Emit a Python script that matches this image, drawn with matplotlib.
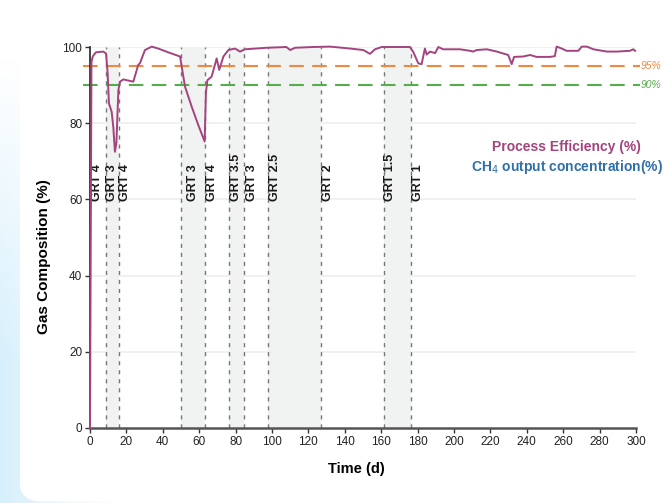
import numpy as np
import matplotlib
matplotlib.use("Agg")
import matplotlib.pyplot as plt
from matplotlib import font_manager
from matplotlib.patches import FancyBboxPatch

names = {f.name for f in font_manager.fontManager.ttflist}
FONT = "Liberation Sans" if "Liberation Sans" in names else "DejaVu Sans"
plt.rcParams["font.family"] = [FONT, "DejaVu Sans"]

# ---- data ----
days = [0, 0.8, 1.5, 3.2, 7.3, 8.8, 9.7, 10.4, 11.9, 12.8, 13.7, 14.5, 15.6, 16.5, 18.3, 20.1,
        23.8, 26.5, 27.4, 30.2, 33.9, 37.5, 43, 49.5, 50.4, 52.2, 55.9, 59.5, 63.0, 63.7, 64.5,
        66.8, 69.6, 71, 73.3, 76, 79.7, 82.4, 85.2, 97, 107.9, 110, 112.6, 122.6, 131.9,
        142.9, 150.2, 153.8, 156.6, 160.3, 175.8, 177.6, 180.4, 182.2, 184, 185, 186.8, 189.6,
        191.4, 194, 199.6, 203.3, 208.8, 210.6, 212.4, 218, 223.5, 229.8, 231.7, 233, 238,
        241.8, 245.4, 252.7, 255.4, 256.4, 259.2, 261.9, 268.3, 270.2, 273, 276.6, 283.9,
        289.4, 296.7, 298.5, 299.5]
efficiency = [0, 96, 97.5, 98.6, 98.8, 98.3, 93.1, 85.2, 83, 79, 72.5, 74.8, 88.7, 90.9, 91.5, 91.3,
              90.9, 95.3, 95.7, 99.2, 100.1, 99.6, 98.6, 97.5, 94.8, 89.6, 84.3, 79.5, 75.2, 88, 91.3,
              92.2, 97, 94, 97.5, 99.2, 99.6, 98.8, 99.4, 99.8, 100, 99.2, 99.8, 100, 100.1,
              99.6, 99.2, 98.2, 99.4, 100, 100, 98.7, 95.7, 95.5, 99.6, 98, 98.8, 98.4,
              100, 99.4, 99.4, 99.4, 99, 98.8, 99.2, 99.4, 98.8, 97.9, 95.5, 97.4, 97.5,
              97.9, 97.4, 97.4, 97.6, 100.1, 99.6, 99, 99, 100.1, 100.1, 99.4, 98.8,
              98.8, 99, 99.4, 99]

grt_lines = [9, 16, 50, 63.3, 76.2, 84.8, 97.7, 127, 161.3, 176.5]
shaded = [(9, 16), (50, 63.3), (76.2, 84.8), (97.7, 127), (161.3, 176.5)]
grt_label_x = [3.7, 12.1, 19.1, 56.4, 66.9, 80, 88.8, 101.9, 131, 164.8, 180]
grt_labels = ["GRT 4", "GRT 3", "GRT 4", "GRT 3", "GRT 4", "GRT 3.5", "GRT 3", "GRT 2.5",
              "GRT 2", "GRT 1.5", "GRT 1"]
thresholds = [95, 90]
threshold_labels = ["95%", "90%"]
threshold_colors = ["#f0893f", "#56ad4c"]
x_ticks = list(range(0, 301, 20))
y_ticks = [0, 20, 40, 60, 80, 100]

PURPLE = "#a3447f"
BLUE = "#2f70aa"

fig = plt.figure(figsize=(6.65, 5.03), dpi=100)
fig.patch.set_facecolor("white")

# background: light blue gradient on left, white rounded panel
bg = fig.add_axes([0, 0, 1, 1], zorder=-10)
H, W = 503, 665
yy, xx = np.mgrid[0:H, 0:W]
t = np.clip((yy - 60) / 300.0, 0, 1)
hx = np.clip(1 - xx / 120.0, 0, 1)
amt = t * hx
base = np.array([1.0, 1.0, 1.0])
blue = np.array([0.84, 0.94, 0.99])
img = base[None, None, :] * (1 - amt[..., None]) + blue[None, None, :] * amt[..., None]
bg.imshow(img, extent=[0, 1, 0, 1], aspect="auto", origin="upper")
bg.add_patch(FancyBboxPatch((20 / W, 1.5 / H), 1.2, 1.2, boxstyle="round,pad=0,rounding_size=0.035",
                            transform=bg.transAxes, facecolor="white", edgecolor="none"))
bg.set_xlim(0, 1); bg.set_ylim(0, 1)
bg.axis("off")

ax = fig.add_axes([90 / 665, 1 - 428 / 503, 546 / 665, 381 / 503])
ax.set_facecolor("none")
ax.set_xlim(0, 300)
ax.set_ylim(0, 100)

for g in [20, 40, 60, 80, 100]:
    ax.axhline(g, color="#eeeeee", lw=1.2, zorder=0)

for a, b in shaded:
    ax.axvspan(a, b, color="#f1f2f2", zorder=0.5, lw=0)
for x in grt_lines:
    ax.axvline(x, color="#777777", lw=1.0, ls=(0, (3, 3.5)), zorder=1)

for x, lab in zip(grt_label_x, grt_labels):
    ax.text(x, 59.5, lab, rotation=90, ha="center", va="bottom", fontsize=9,
            fontweight="bold", color="#1a1a1a", zorder=3)

for v, lab, c in zip(thresholds, threshold_labels, threshold_colors):
    ax.plot([-4, 302], [v, v], color=c, lw=1.5, ls=(0, (7, 4)), clip_on=False, zorder=2)
    ax.text(302.3, v, lab, color=c, fontsize=7.5, style="italic", ha="left", va="center",
            clip_on=False)

ax.plot(days, efficiency, color=PURPLE, lw=1.4, zorder=4, clip_on=False)

ax.text(262, 73.8, "Process Efficiency (%)", color=PURPLE, fontsize=10, fontweight="bold",
        ha="center", va="center")
ax.text(262, 68.6, "CH$_4$ output concentration(%)", color=BLUE, fontsize=10, fontweight="bold",
        ha="center", va="center")

ax.set_xticks(x_ticks)
ax.set_yticks(y_ticks)
ax.tick_params(axis="both", labelsize=8.5, length=3.5, width=1, color="#333333",
               labelcolor="#222222", pad=2)
for s in ["top", "right"]:
    ax.spines[s].set_visible(False)
ax.spines["left"].set_linewidth(1.3)
ax.spines["bottom"].set_linewidth(1.8)
ax.spines["left"].set_color("#333333")
ax.spines["bottom"].set_color("#555555")

ax.set_xlabel("Time (d)", fontsize=10.5, fontweight="bold")
ax.xaxis.set_label_coords(0.487, -0.089)
ax.set_ylabel("Gas Composition (%)", fontsize=11, fontweight="bold")
ax.yaxis.set_label_coords(-0.072, 0.45)

fig.savefig("out.png", dpi=100)
